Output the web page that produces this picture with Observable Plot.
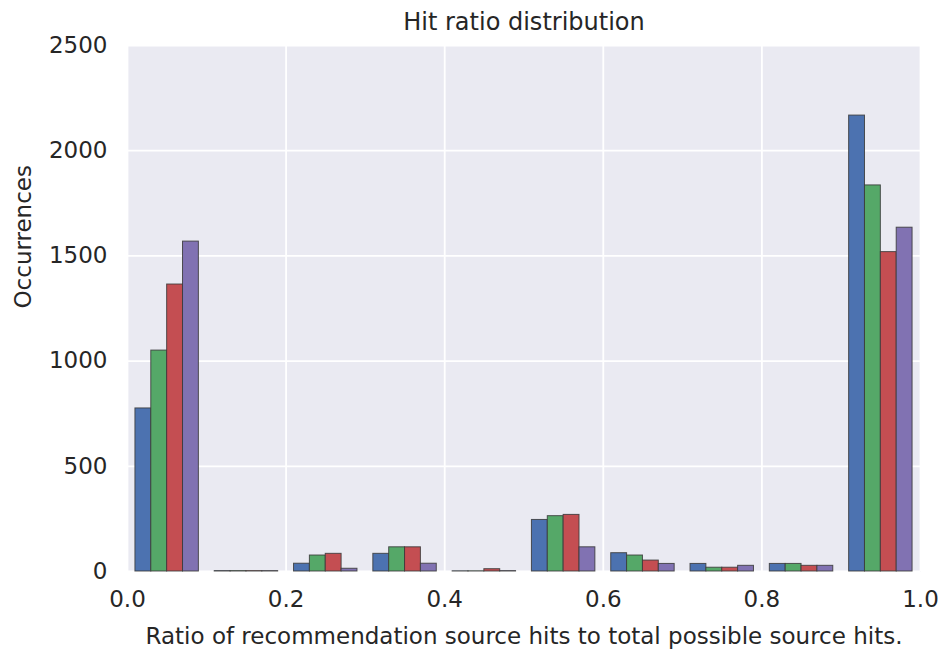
<!DOCTYPE html>
<html>
<head>
<meta charset="utf-8">
<script src="https://cdn.jsdelivr.net/npm/d3@7"></script>
<script src="https://cdn.jsdelivr.net/npm/@observablehq/plot@0.6"></script>
<style>
  html, body { margin: 0; padding: 0; background: white; }
</style>
</head>
<body>
<div id="chart"></div>
<script>
// Histogram bin left edges (bin width 0.1)
const binEdges = [0.0, 0.1, 0.2, 0.3, 0.4, 0.5, 0.6, 0.7, 0.8, 0.9];
const binWidth = 0.1;
// Four series of occurrences per bin
const seriesNames = ["Series 1", "Series 2", "Series 3", "Series 4"];
const series1 = [775, 2, 37, 84, 1, 245, 87, 36, 36, 2167];
const series2 = [1050, 2, 76, 115, 1, 263, 76, 18, 36, 1835];
const series3 = [1364, 2, 84, 115, 11, 269, 52, 18, 27, 1518];
const series4 = [1568, 2, 13, 37, 2, 115, 36, 27, 27, 1634];
const seriesColors = ["#4C72B0", "#55A868", "#C44E52", "#8172B2"];
// Tick labels
const xTicks = [0, 0.2, 0.4, 0.6, 0.8, 1.0];
const yTicks = [0, 500, 1000, 1500, 2000, 2500];
const title = "Hit ratio distribution";
const xLabel = "Ratio of recommendation source hits to total possible source hits.";
const yLabel = "Occurrences";

// Build the table: matplotlib-style grouped histogram (80% of bin width, split among series)
const allSeries = [series1, series2, series3, series4];
const barW = binWidth * 0.8 / allSeries.length;
const table = [];
binEdges.forEach((edge, i) => {
  allSeries.forEach((vals, s) => {
    const x1 = edge + binWidth * 0.1 + s * barW;
    table.push({x1, x2: x1 + barW, value: vals[i], series: seriesNames[s]});
  });
});

const font = "DejaVu Sans, Liberation Sans, sans-serif";

const chart = Plot.plot({
  width: 940,
  height: 652,
  marginLeft: 127,
  marginRight: 20,
  marginTop: 45,
  marginBottom: 81,
  style: {fontFamily: font, fontSize: "23px", background: "white", color: "#262626", overflow: "visible"},
  x: {domain: [0, 1]},
  y: {domain: [0, 2500]},
  color: {domain: seriesNames, range: seriesColors},
  marks: [
    Plot.frame({fill: "#EAEAF2", stroke: null}),
    Plot.gridX(xTicks, {stroke: "white", strokeOpacity: 1, strokeWidth: 1.8}),
    Plot.gridY(yTicks, {stroke: "white", strokeOpacity: 1, strokeWidth: 1.8}),
    Plot.rect(table, {x1: "x1", x2: "x2", y1: 0, y2: "value", fill: "series", stroke: "#3a3a3a", strokeWidth: 1, strokeOpacity: 0.85}),
    Plot.axisX(xTicks, {tickSize: 0, tickPadding: 19, tickFormat: d3.format(".1f"), label: null, fontSize: 23, fill: "#262626"}),
    Plot.axisY(yTicks, {tickSize: 0, tickPadding: 20, tickFormat: d3.format("d"), label: null, fontSize: 23, fill: "#262626"}),
    Plot.text([title], {frameAnchor: "top", lineAnchor: "middle", dy: -23, fontSize: 24, fill: "#262626"}),
    Plot.text([xLabel], {frameAnchor: "bottom", lineAnchor: "middle", dy: 65, fontSize: 23, fill: "#262626"}),
    Plot.text([yLabel], {frameAnchor: "left", lineAnchor: "middle", rotate: -90, dx: -104, fontSize: 23, fill: "#262626"})
  ]
});

document.getElementById("chart").appendChild(chart);
</script>
</body>
</html>
